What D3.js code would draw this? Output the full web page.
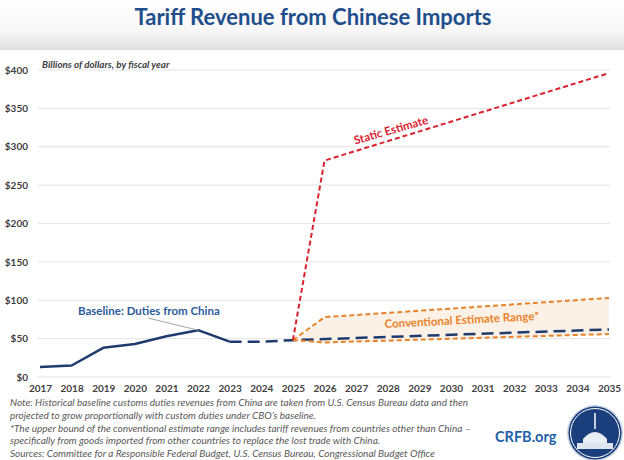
<!DOCTYPE html>
<html>
<head>
<meta charset="utf-8">
<script src="https://cdn.jsdelivr.net/npm/d3@7"></script>
<style>
  body { margin: 0; background: #fff; }
  svg text { font-family: Lato, "Open Sans", sans-serif; }
</style>
</head>
<body>
<div id="chart"></div>
<script>
// Datos (miles de millones de dólares, año fiscal)
const years = d3.range(2017, 2036);
const histYears = [2017, 2018, 2019, 2020, 2021, 2022, 2023];
const histValues = [13, 15, 38, 43, 53, 61, 46];
const projYears = [2023, 2024, 2025, 2035];
const projValues = [46, 46, 48, 62];
const staticYears = [2025, 2026, 2035];
const staticValues = [48, 282, 396];
const convYears = [2025, 2026, 2035];
const convUpper = [48, 78, 103];
const convLower = [48, 45, 56];
const yTicks = [0, 50, 100, 150, 200, 250, 300, 350, 400];
const notes = [
  "Note: Historical baseline customs duties revenues from China are taken from U.S. Census Bureau data and then",
  "projected to grow proportionally with custom duties under CBO\u2019s baseline.",
  "*The upper bound of the conventional estimate range includes tariff revenues from countries other than China \u2013",
  "specifically from goods imported from other countries to replace the lost trade with China.",
  "Sources: Committee for a Responsible Federal Budget, U.S. Census Bureau, Congressional Budget Office",
];

const width = 624;
const height = 460;

const svg = d3
  .select("div#chart")
  .append("svg")
  .attr("width", width)
  .attr("height", height);

// cabecera con degradado
const defs = svg.append("defs");
const grad = defs
  .append("linearGradient")
  .attr("id", "head")
  .attr("x1", 0).attr("y1", 0).attr("x2", 0).attr("y2", 1);
grad.append("stop").attr("offset", "0%").attr("stop-color", "#ffffff");
grad.append("stop").attr("offset", "65%").attr("stop-color", "#f6f6f6");
grad.append("stop").attr("offset", "100%").attr("stop-color", "#dedede");
svg.append("rect").attr("width", width).attr("height", 50).attr("fill", "url(#head)");

svg
  .append("text")
  .attr("x", 313)
  .attr("y", 25)
  .attr("text-anchor", "middle")
  .attr("font-size", 22)
  .attr("font-weight", "bold")
  .attr("fill", "#1f4e8c")
  .text("Tariff Revenue from Chinese Imports");

// Escalas
const x = d3.scaleLinear().domain([2017, 2035]).range([40, 609]);
const y = d3.scaleLinear().domain([0, 400]).range([377, 70]);

// rejilla
svg
  .append("g")
  .selectAll("line")
  .data(yTicks)
  .join("line")
  .attr("x1", 38)
  .attr("x2", 610)
  .attr("y1", (d) => y(d))
  .attr("y2", (d) => y(d))
  .attr("stroke", "#e4e4e4")
  .attr("stroke-width", 1);

// ejes
const yAxis = d3
  .axisLeft(y)
  .tickValues(yTicks)
  .tickSize(0)
  .tickFormat((d) => "$" + d);
const yAxisGroup = svg.append("g").attr("transform", "translate(31,0)").call(yAxis);
yAxisGroup.select(".domain").remove();
yAxisGroup
  .selectAll("text")
  .attr("font-size", 10)
  .attr("font-weight", "bold")
  .attr("fill", "#404040")
  .attr("dx", 0);

const xAxis = d3.axisBottom(x).tickValues(years).tickSize(0).tickFormat(d3.format("d"));
const xAxisGroup = svg.append("g").attr("transform", "translate(0,382)").call(xAxis);
xAxisGroup.select(".domain").remove();
xAxisGroup
  .selectAll("text")
  .attr("font-size", 10)
  .attr("font-weight", "bold")
  .attr("fill", "#404040");

svg
  .append("text")
  .attr("x", 42)
  .attr("y", 68)
  .attr("font-size", 9.8)
  .attr("font-weight", "bold")
  .attr("font-style", "italic")
  .attr("fill", "#404040")
  .text("Billions of dollars, by fiscal year");

// área estimación convencional
const convData = convYears.map((d, i) => ({ year: d, hi: convUpper[i], lo: convLower[i] }));
svg
  .append("path")
  .datum(convData)
  .attr("fill", "#fcf1e6")
  .attr(
    "d",
    d3.area().x((d) => x(d.year)).y0((d) => y(d.lo)).y1((d) => y(d.hi))
  );

const line = d3.line().x((d) => x(d[0])).y((d) => y(d[1]));

// línea base proyectada
svg
  .append("path")
  .datum(d3.zip(projYears, projValues))
  .attr("fill", "none")
  .attr("stroke", "#1f3b6e")
  .attr("stroke-width", 2.5)
  .attr("stroke-dasharray", "12,6")
  .attr("d", line);

// límites convencionales
[convUpper, convLower].forEach((vals) => {
  svg
    .append("path")
    .datum(d3.zip(convYears, vals))
    .attr("fill", "none")
    .attr("stroke", "#e8832a")
    .attr("stroke-width", 2)
    .attr("stroke-dasharray", "5,3")
    .attr("d", line);
});

// estimación estática
svg
  .append("path")
  .datum(d3.zip(staticYears, staticValues))
  .attr("fill", "none")
  .attr("stroke", "#d9222e")
  .attr("stroke-width", 2)
  .attr("stroke-dasharray", "5,3")
  .attr("d", line);

// histórico
svg
  .append("path")
  .datum(d3.zip(histYears, histValues))
  .attr("fill", "none")
  .attr("stroke", "#1f3b6e")
  .attr("stroke-width", 2.5)
  .attr("stroke-linejoin", "round")
  .attr("d", line);

// etiquetas
svg
  .append("line")
  .attr("x1", 148)
  .attr("y1", 318)
  .attr("x2", x(2022))
  .attr("y2", y(61))
  .attr("stroke", "#a6a6a6")
  .attr("stroke-width", 1);

svg
  .append("text")
  .attr("x", 78)
  .attr("y", 315)
  .attr("font-size", 11.5)
  .attr("font-weight", "bold")
  .attr("fill", "#2e5c9a")
  .text("Baseline: Duties from China");

svg
  .append("text")
  .attr("transform", "translate(392,134) rotate(-16)")
  .attr("text-anchor", "middle")
  .attr("font-size", 11.5)
  .attr("font-weight", "bold")
  .attr("fill", "#d9222e")
  .text("Static Estimate");

svg
  .append("text")
  .attr("transform", "translate(462,324) rotate(-3)")
  .attr("text-anchor", "middle")
  .attr("font-size", 11.5)
  .attr("font-weight", "bold")
  .attr("fill", "#e8832a")
  .text("Conventional Estimate Range*");

// notas
svg
  .append("g")
  .selectAll("text")
  .data(notes)
  .join("text")
  .attr("x", 10)
  .attr("y", (d, i) => 406 + i * 12.8)
  .attr("font-size", 10)
  .attr("font-style", "italic")
  .attr("fill", "#595959")
  .text((d) => d);

// logo
svg
  .append("text")
  .attr("x", 495)
  .attr("y", 442)
  .attr("font-size", 14.5)
  .attr("font-weight", "bold")
  .attr("fill", "#1f5fa8")
  .text("CRFB.org");

const logo = svg.append("g").attr("transform", "translate(595,433)");
logo.append("circle").attr("r", 28).attr("fill", "#c9d3e4");
logo.append("circle").attr("r", 26.5).attr("fill", "#1b3f7c");
logo.append("circle").attr("r", 24.5).attr("fill", "none").attr("stroke", "#ffffff").attr("stroke-width", 1);
logo.append("path").attr("d", "M-12,14 L-12,6 Q0,-8 12,6 L12,14 Z").attr("fill", "#e9edf4");
logo.append("rect").attr("x", -18).attr("y", 10).attr("width", 36).attr("height", 6).attr("fill", "#dfe5ee");
logo.append("line").attr("x1", 0).attr("y1", -4).attr("x2", 0).attr("y2", -20).attr("stroke", "#ffffff").attr("stroke-width", 1.5);
</script>
</body>
</html>
